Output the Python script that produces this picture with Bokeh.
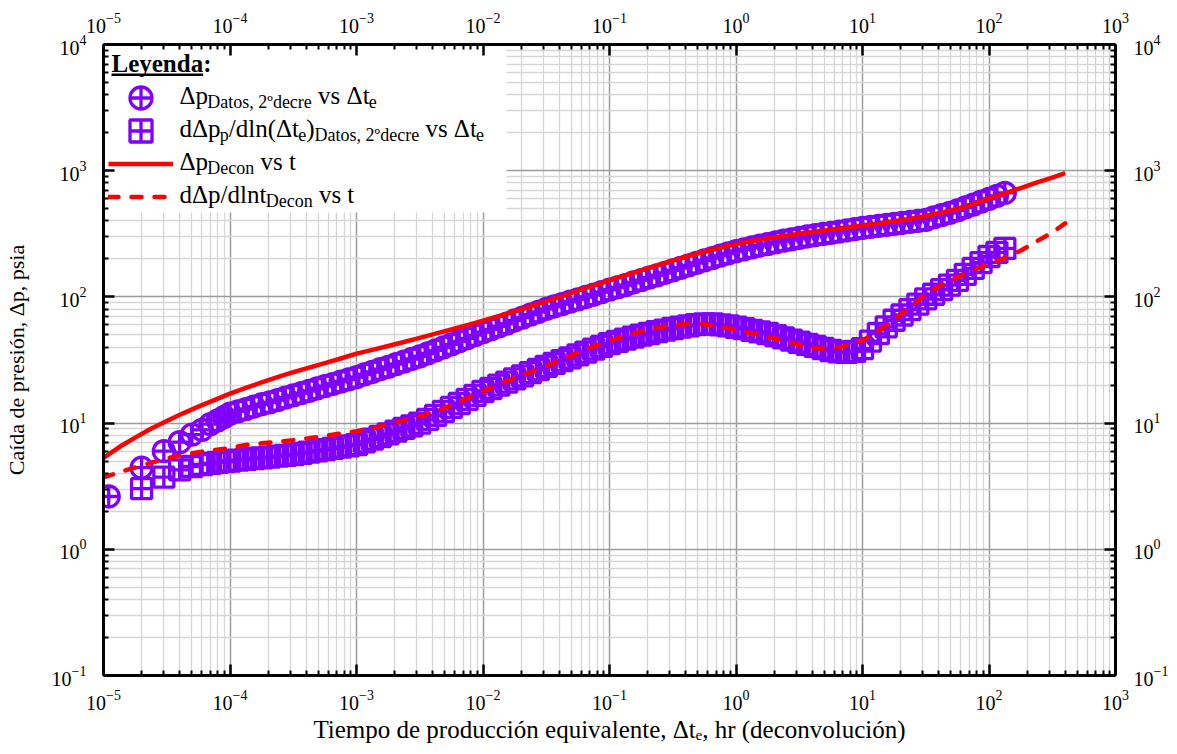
from bokeh.plotting import figure
from bokeh.models import (LogAxis, Label, Legend, LegendItem, BoxAnnotation,
                          FixedTicker)
from bokeh.core.properties import value
from bokeh.embed import file_html
from bokeh.resources import INLINE

# ------------------------------------------------------------------
# Data
# ------------------------------------------------------------------
# sampling mantissas (16 and 8 samples per decade)
MANT16 = [1.000, 1.155, 1.334, 1.540, 1.778, 2.054, 2.371, 2.738,
          3.162, 3.652, 4.217, 4.870, 5.623, 6.494, 7.499, 8.660]
MANT8 = [1.000, 1.334, 1.778, 2.371, 3.162, 4.217, 5.623, 7.499]

# equivalent production time of the measured points, hr
T_EARLY = [1.1e-5, 2e-5, 3e-5, 4e-5, 5e-5, 6e-5, 7e-5, 8e-5, 9e-5]
T_DATA = T_EARLY + [m * 10.0 ** d for d in range(-4, 2) for m in MANT16] + [100.0, 115.5, 133.4]

# pressure drop, data (2nd drawdown), psia
DP_DATA = [2.62, 4.43, 5.99, 7.06, 8.1, 8.85, 9.8, 10.5, 11.2,
           11.9, 12.4, 12.9, 13.5, 14.1, 14.6, 15.2, 15.9, 16.6, 17.3, 18.0, 18.8, 19.6, 20.4, 21.3, 22.2,
           23.1, 24.3, 25.4, 26.7, 27.9, 29.3, 30.7, 32.2, 33.7, 35.6, 37.7, 39.8, 42.1, 44.5, 47.0, 49.7,
           52.5, 55.3, 58.3, 61.5, 65.0, 68.5, 72.3, 76.2, 80.4, 83.9, 87.7, 91.6, 95.7, 99.8, 104, 109,
           114, 119, 124, 130, 136, 142, 148, 155, 162, 170, 178, 186, 195, 203, 212, 221,
           230, 238, 247, 255, 262, 270, 279, 286, 294, 301, 308, 315, 322, 329, 337, 344,
           352, 359, 366, 372, 379, 385, 393, 400, 407, 426, 445, 463, 484, 511, 538, 568,
           598, 631, 667]

# pressure derivative, data (starts at the 2nd time)
T_DER = T_DATA[1:]
DER_DATA = [3.02, 3.73, 4.26, 4.53, 4.70, 4.80, 4.88, 4.95,
            5.01, 5.08, 5.16, 5.24, 5.31, 5.38, 5.47, 5.55, 5.62, 5.75, 5.89, 6.03, 6.17, 6.31, 6.46, 6.61,
            6.76, 7.10, 7.46, 7.83, 8.22, 8.64, 9.07, 9.52, 10.0, 10.7, 11.5, 12.4, 13.3, 14.3, 15.4, 16.6,
            17.8, 18.8, 20.0, 21.1, 22.4, 23.7, 25.1, 26.6, 28.2, 29.7, 31.3, 32.9, 34.7, 36.5, 38.5, 40.5,
            42.7, 44.5, 46.2, 48.0, 49.7, 51.3, 53.0, 54.6, 56.2, 57.7, 59.0, 60.3, 61.2, 61.0, 60.1, 59.0,
            57.5, 56.0, 54.3, 52.8, 51.3, 49.3, 47.3, 45.5, 43.7, 42.1, 40.5, 39.0, 37.6, 36.7, 36.3, 37.0,
            38.9, 44.7, 51.3, 57.9, 65.3, 71.9, 79.4, 87.5, 96.6, 105, 114, 124, 135, 151, 168, 187,
            209, 225, 242]

# deconvolution curves
T_LINE = [m * 10.0 ** d for d in range(-5, 2) for m in MANT8] + [100.0, 133.4, 177.8, 237.1, 316.2, 400.0]
DP_DECON = [5.31, 6.46, 7.67, 9.02, 10.4, 11.9, 13.5, 15.2,
            17.1, 19.0, 21.0, 23.1, 25.3, 27.5, 29.9, 32.5,
            35.5, 38.0, 40.8, 43.9, 47.3, 51.1, 55.2, 59.8,
            64.9, 70.5, 76.7, 83.9, 92.3, 101, 112, 123,
            135, 148, 162, 178, 194, 211, 228, 245,
            262, 277, 291, 304, 316, 329, 341, 355,
            368, 382, 398, 415, 437, 465, 499, 543,
            603, 661, 728, 803, 883, 955]
DER_DECON = [3.72, 4.07, 4.45, 4.84, 5.25, 5.60, 5.89, 6.12,
             6.35, 6.70, 6.92, 7.11, 7.33, 7.60, 7.91, 8.26,
             8.63, 9.08, 9.77, 10.5, 11.3, 12.4, 13.8, 15.7,
             17.9, 20.2, 22.8, 25.4, 28.4, 32.0, 35.9, 40.5,
             44.9, 49.0, 53.3, 56.8, 59.6, 61.1, 60.8, 58.3,
             55.0, 51.5, 48.4, 45.2, 41.7, 39.1, 38.9, 41.0,
             45.2, 53.7, 66.1, 83.2, 105, 124, 143, 162,
             183, 203, 232, 275, 324, 382]

# axes ticks
X_MAJOR = [1e-5, 1e-4, 1e-3, 1e-2, 1e-1, 1e0, 1e1, 1e2, 1e3]
Y_MAJOR = [1e-1, 1e0, 1e1, 1e2, 1e3, 1e4]
X_MINOR = [k * 10.0 ** d for d in range(-5, 3) for k in range(2, 10)]
Y_MINOR = [k * 10.0 ** d for d in range(-1, 4) for k in range(2, 10)]

X_TITLE = "Tiempo de producción equivalente, Δtₑ, hr (deconvolución)"
Y_TITLE = "Caída de presión, Δp, psia"

# ------------------------------------------------------------------
# Styling
# ------------------------------------------------------------------
PURPLE = "#8000FF"
RED = "#FF0000"
SERIF = "Liberation Serif"
W, H = 1177, 754
FL, FT, FR, FB = 102, 44, 1115, 675   # frame edges in canvas pixels
TEXT_DY = -8                          # baseline correction for Labels

p = figure(width=W, height=H, x_axis_type="log", y_axis_type="log",
           x_range=(1e-5, 1e3), y_range=(1e-1, 1e4),
           output_backend="svg", toolbar_location=None,
           min_border_left=FL, min_border_right=W - FR,
           min_border_top=FT, min_border_bottom=H - FB)
p.outline_line_color = None
p.background_fill_color = "white"
p.border_fill_color = "white"

bottom = p.below[0]
left = p.left[0]
top = LogAxis()
right = LogAxis()
p.add_layout(top, "above")
p.add_layout(right, "right")

xt = FixedTicker(ticks=X_MAJOR, minor_ticks=X_MINOR)
yt = FixedTicker(ticks=Y_MAJOR, minor_ticks=Y_MINOR)

for ax, tk in [(bottom, xt), (top, xt), (left, yt), (right, yt)]:
    ax.ticker = tk
    ax.axis_line_color = "black"
    ax.axis_line_width = 3
    ax.major_tick_in = 11
    ax.major_tick_out = 0
    ax.minor_tick_in = 5
    ax.minor_tick_out = 0
    ax.major_tick_line_width = 2.5
    ax.minor_tick_line_width = 2
    ax.major_tick_line_color = "black"
    ax.minor_tick_line_color = "black"
    ax.major_label_text_font = SERIF
    ax.major_label_text_font_size = "20px"
    ax.major_label_text_color = "black"

bottom.major_label_standoff = 14
top.major_label_standoff = 12
left.major_label_standoff = 17
right.major_label_standoff = 18

bottom.axis_label = X_TITLE
bottom.axis_label_text_font = SERIF
bottom.axis_label_text_font_size = "25px"
bottom.axis_label_text_font_style = "normal"
bottom.axis_label_text_color = "black"
bottom.axis_label_standoff = 3

left.axis_label = Y_TITLE
left.axis_label_text_font = SERIF
left.axis_label_text_font_size = "22px"
left.axis_label_text_font_style = "normal"
left.axis_label_text_color = "black"
left.axis_label_standoff = 20

p.xgrid.ticker = xt
p.ygrid.ticker = yt
for g in (p.xgrid, p.ygrid):
    g.grid_line_color = "#9c9c9c"
    g.grid_line_width = 1.5
    g.minor_grid_line_color = "#d6d6d6"
    g.minor_grid_line_width = 1.3

# legend white background (covers the grid)
p.add_layout(BoxAnnotation(left=0, right=403, top=FB - FT, bottom=FB - 212,
                           left_units="screen", right_units="screen",
                           top_units="screen", bottom_units="screen",
                           fill_color="white", fill_alpha=1.0, line_color=None,
                           level="underlay"))

# ------------------------------------------------------------------
# Data glyphs
# ------------------------------------------------------------------
r_circ = p.scatter(T_DATA, DP_DATA, marker="circle_cross", size=21,
                   line_color=PURPLE, line_width=3.3, fill_color=None)
r_sq = p.scatter(T_DER, DER_DATA, marker="square_cross", size=20,
                 line_color=PURPLE, line_width=3.3, fill_color=None)
r_dp = p.line(T_LINE, DP_DECON, line_color=RED, line_width=4.5, line_join="round")
r_der = p.line(T_LINE, DER_DECON, line_color=RED, line_width=4.5,
               line_dash="10 13", line_cap="round")

# legend symbols: one single-item legend per row (text drawn separately)
for rend, cy in [(r_circ, 97), (r_sq, 130), (r_dp, 163), (r_der, 196)]:
    p.add_layout(Legend(items=[LegendItem(label=value(""), renderers=[rend])],
                        location=(5, FB - cy - 27.5), padding=0, margin=0, spacing=0,
                        glyph_width=65, glyph_height=55, label_height=55, label_width=10,
                        label_standoff=0, background_fill_alpha=0, border_line_alpha=0))

# ------------------------------------------------------------------
# Rich text helpers (Times metrics for placing pieces)
# ------------------------------------------------------------------
REG = {' ': 250, ',': 250, '.': 250, ':': 278, '(': 333, ')': 333, '/': 278,
       '0': 500, '1': 500, '2': 500, '-': 333, 'C': 667, 'D': 722, 'T': 611,
       'a': 444, 'c': 444, 'd': 500, 'e': 444, 'h': 500, 'i': 278, 'l': 278,
       'm': 778, 'n': 500, 'o': 500, 'p': 500, 'q': 500, 'r': 333, 's': 389,
       't': 278, 'u': 500, 'v': 500, 'í': 278, 'ó': 500, 'º': 310, 'Δ': 612}
BOLD = {'L': 667, 'e': 444, 'y': 500, 'n': 556, 'd': 556, 'a': 500, ':': 333}
TABLES = {"normal": REG, "bold": BOLD}


def tw(s, size, style):
    t = TABLES[style]
    return sum(t.get(c, 500) for c in s) * size / 1000.0


def put(cx, cy, text, size, style="normal"):
    p.add_layout(Label(x=cx - FL, y=FB - (cy + TEXT_DY), x_units="screen", y_units="screen",
                       text=text, text_font=SERIF, text_font_size=f"{size}px",
                       text_font_style=style, text_color="black",
                       text_align="left", text_baseline="alphabetic"))


def rich(x0, base, pieces):
    pos = 0.0
    for txt, size, style, drop in pieces:
        lead = len(txt) - len(txt.lstrip(' '))
        core = txt.strip(' ')
        put(x0 + pos + lead * 250 * size / 1000.0, base + drop, core, size, style)
        pos += tw(txt, size, style)
    return pos


# legend title and entries
put(110, 71, "Leyenda:", 25, "bold")
p.add_layout(BoxAnnotation(left=8, right=8 + tw("Leyenda", 25, "bold"),
                           top=FB - 73, bottom=FB - 75.5,
                           left_units="screen", right_units="screen",
                           top_units="screen", bottom_units="screen",
                           fill_color="black", fill_alpha=1.0, line_color=None))
M, S, DROP = 25, 18, 6
LX = 178
rich(LX, 97 + 6, [("Δp", M, "normal", 0), ("Datos, 2ºdecre", S, "normal", DROP),
                  (" vs Δt", M, "normal", 0), ("e", S, "normal", DROP)])
rich(LX, 130 + 6, [("dΔp", M, "normal", 0), ("p", S, "normal", DROP),
                   ("/dln(Δt", M, "normal", 0), ("e", S, "normal", DROP),
                   (")", M, "normal", 0), ("Datos, 2ºdecre", S, "normal", DROP),
                   (" vs Δt", M, "normal", 0), ("e", S, "normal", DROP)])
rich(LX, 163 + 6, [("Δp", M, "normal", 0), ("Decon", S, "normal", DROP),
                   (" vs t", M, "normal", 0)])
rich(LX, 196 + 6, [("dΔp/dlnt", M, "normal", 0), ("Decon", S, "normal", DROP),
                   (" vs t", M, "normal", 0)])

open("out.html", "w").write(file_html(p, INLINE))
